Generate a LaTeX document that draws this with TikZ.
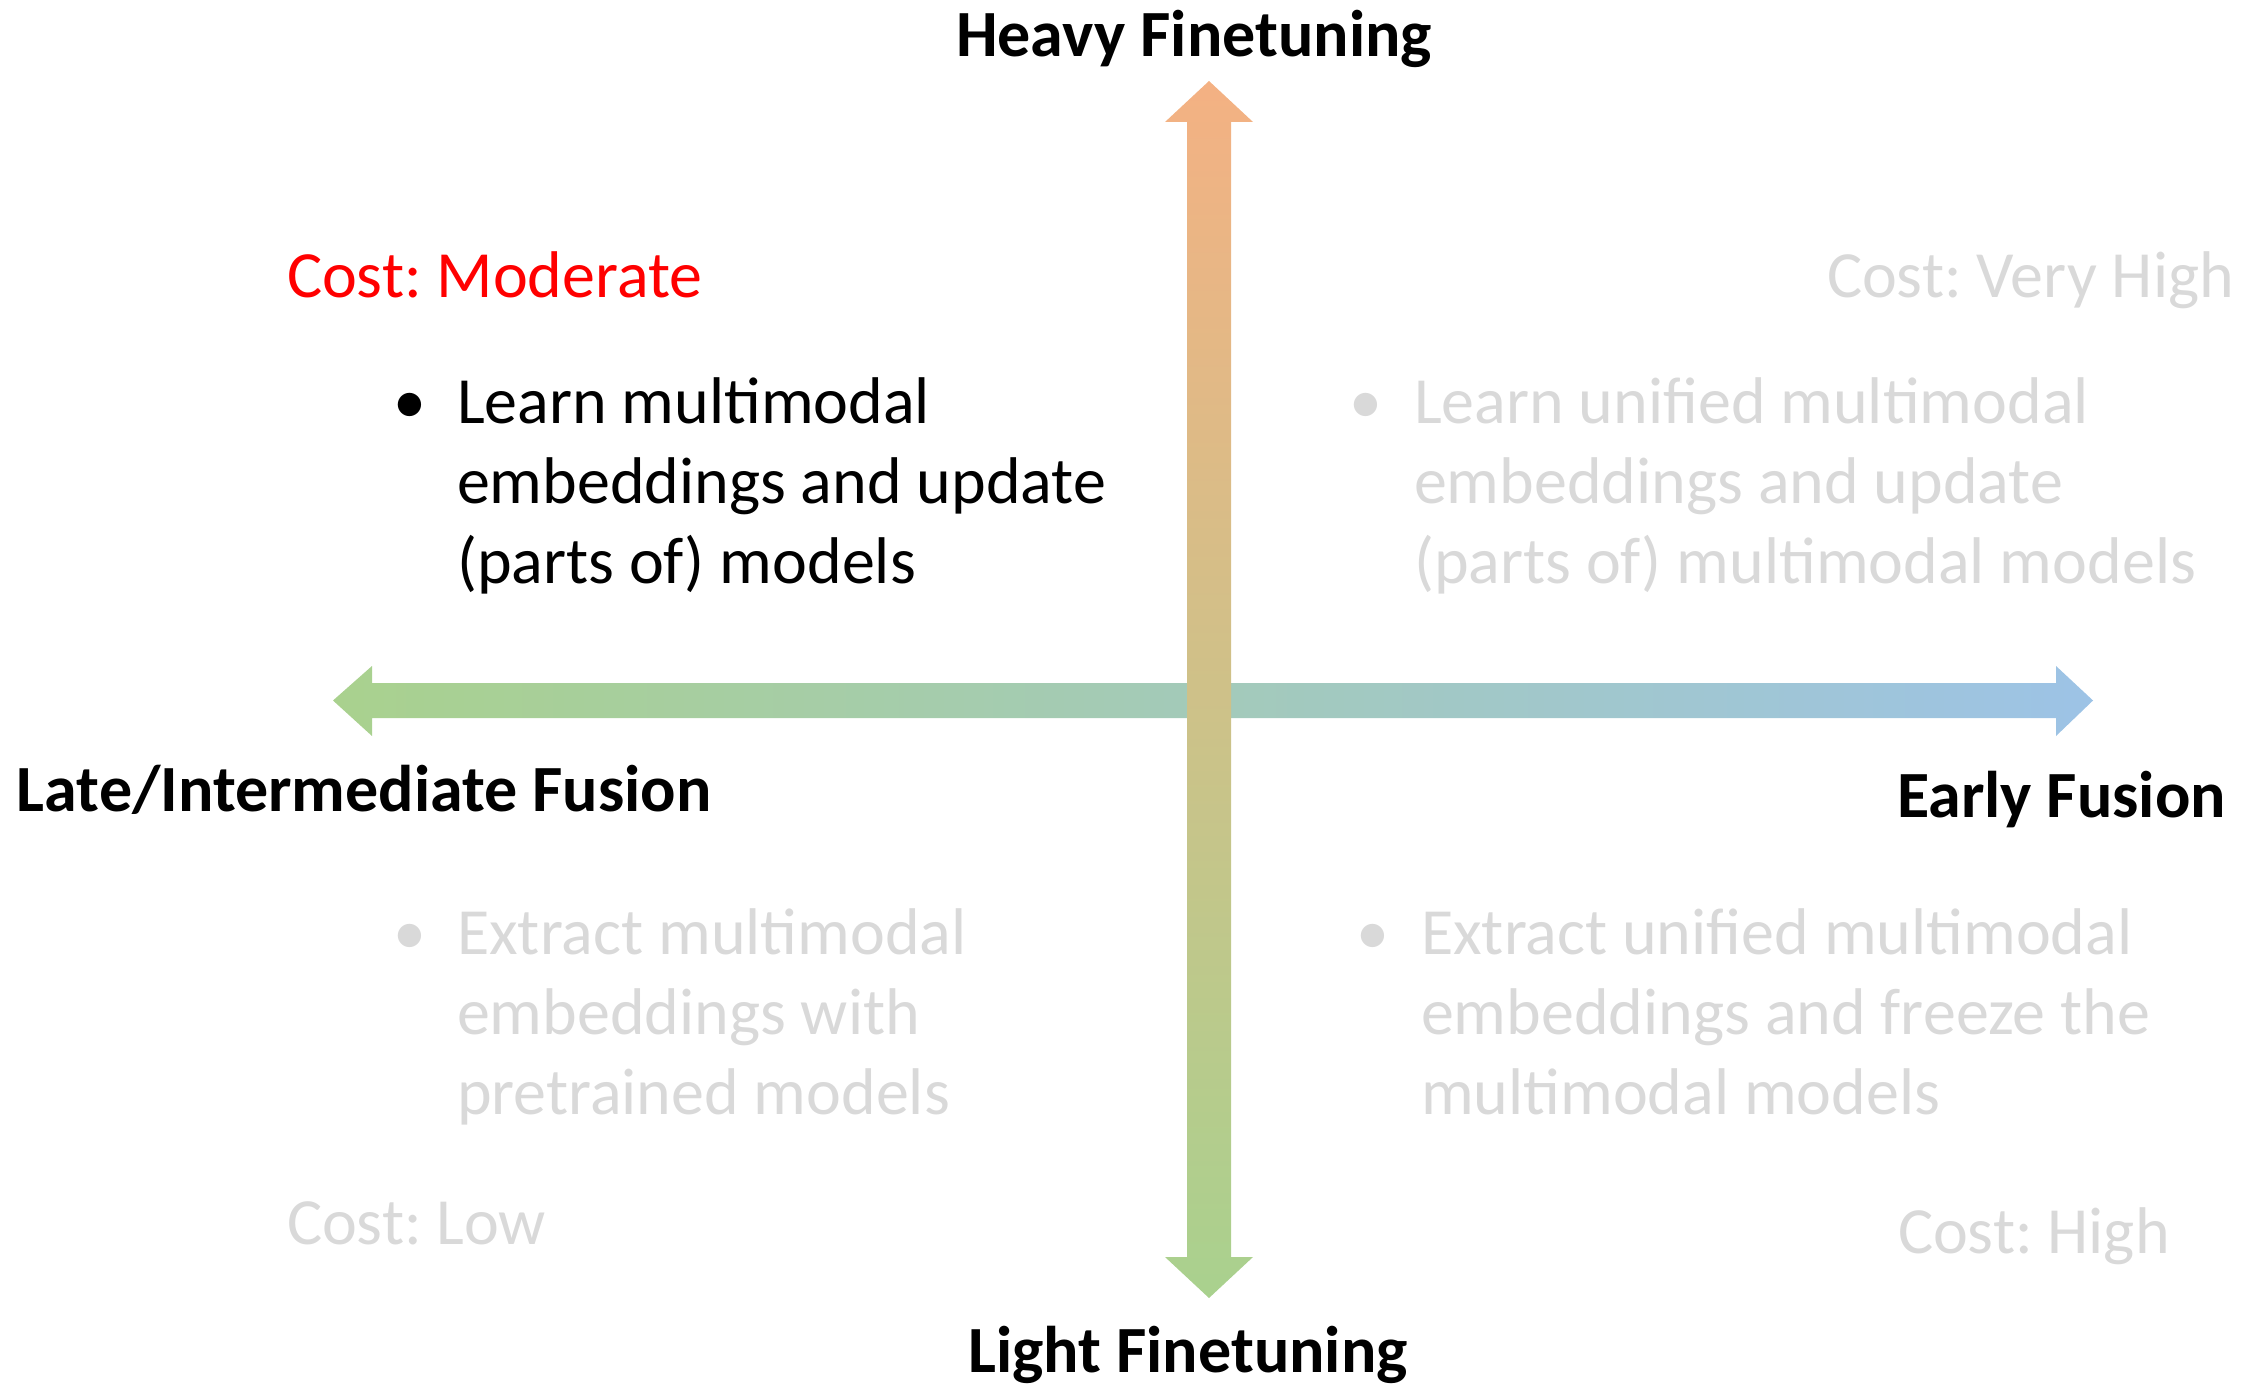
\documentclass[tikz,border=0pt]{standalone}
\usepackage{fontspec}
\setmainfont{Carlito}
\frenchspacing
\definecolor{axisorange}{HTML}{F4B183}
\definecolor{axisgreen}{HTML}{A9D18E}
\definecolor{axisblue}{HTML}{9DC3E6}
\definecolor{faded}{HTML}{D9D9D9}
\definecolor{costred}{HTML}{FF0000}
\tikzset{
  lbl/.style={inner sep=0pt, outer sep=0pt, font=\fontsize{33}{40}\selectfont},
  axislabel/.style={lbl, font=\fontsize{33}{40}\selectfont\bfseries},
  bodytext/.style={lbl, align=left},
  dot/.style={lbl},
}
\begin{document}
\begin{tikzpicture}[x=0.5pt, y=-0.5pt]
\useasboundingbox (0,0) rectangle (2242,1385);

% horizontal double arrow: fusion axis
\shade[left color=axisgreen, right color=axisblue]
  (333,700.5) -- (372,666) -- (372,683) -- (2056,683) -- (2056,666)
  -- (2093,700.5) -- (2056,736) -- (2056,718) -- (372,718) -- (372,736) -- cycle;

% vertical double arrow: finetuning axis
\shade[top color=axisorange, bottom color=axisgreen]
  (1209,81) -- (1253,122) -- (1231,122) -- (1231,1257) -- (1253,1257)
  -- (1209,1298) -- (1165,1257) -- (1187,1257) -- (1187,122) -- (1165,122) -- cycle;

% axis labels
\node[axislabel, anchor=base] (heavy) at (1194,57) {Heavy Finetuning};
\node[axislabel, anchor=base] (light) at (1188,1372) {Light Finetuning};
\node[axislabel, anchor=base west] (late) at (17,811) {Late/Intermediate Fusion};
\node[axislabel, anchor=base east] (early) at (2226,817) {Early Fusion};

% cost labels
\node[lbl, anchor=base west, text=costred] (costmod) at (287,298) {Cost: Moderate};
\node[lbl, anchor=base west, text=faded] (costvh) at (1827,298) {Cost: Very High};
\node[lbl, anchor=base west, text=faded] (costlow) at (287,1244) {Cost: Low};
\node[lbl, anchor=base west, text=faded] (costhigh) at (1898,1253) {Cost: High};

% quadrant descriptions (block anchored on its last baseline)
\node[dot, anchor=base west] (b1) at (393,423) {•};
\node[bodytext, anchor=base west] (t1) at (457,583)
  {Learn multimodal\\embeddings and update\\(parts of) models};

\node[dot, anchor=base west, text=faded] (b2) at (1349,423) {•};
\node[bodytext, anchor=base west, text=faded] (t2) at (1414,583)
  {Learn unified multimodal\\embeddings and update\\(parts of) multimodal models};

\node[dot, anchor=base west, text=faded] (b3) at (393,954) {•};
\node[bodytext, anchor=base west, text=faded] (t3) at (457,1114)
  {Extract multimodal\\embeddings with\\pretrained models};

\node[dot, anchor=base west, text=faded] (b4) at (1356,954) {•};
\node[bodytext, anchor=base west, text=faded] (t4) at (1421,1114)
  {Extract unified multimodal\\embeddings and freeze the\\multimodal models};
\end{tikzpicture}
\end{document}
